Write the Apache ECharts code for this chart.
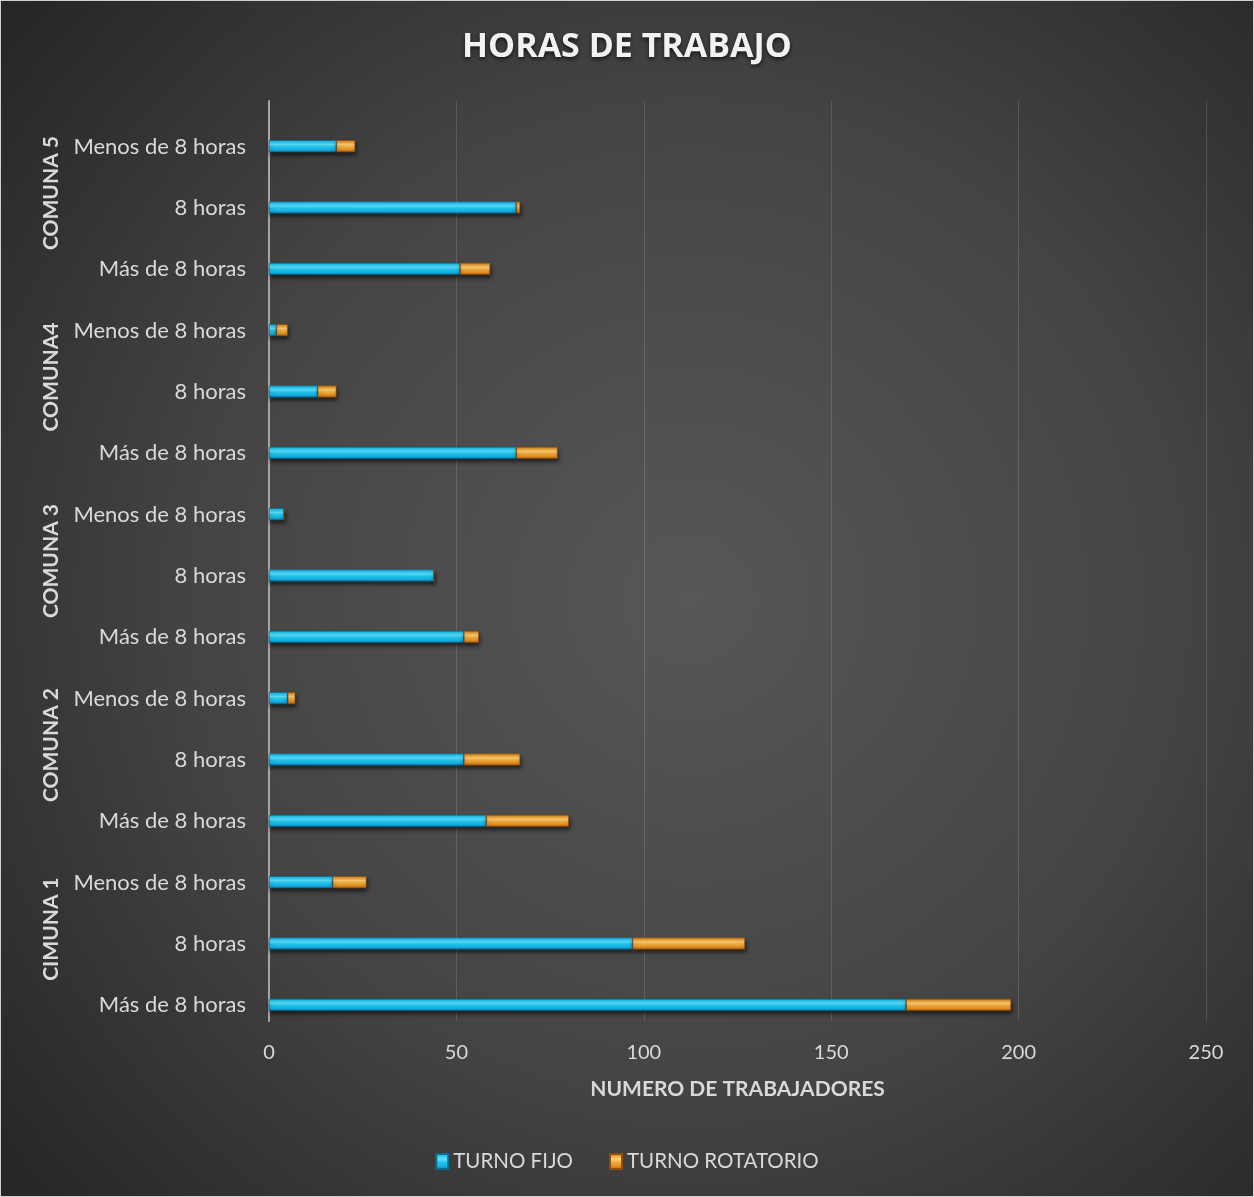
<!DOCTYPE html>
<html>
<head>
<meta charset="utf-8">
<script src="https://cdn.jsdelivr.net/npm/echarts@6/dist/echarts.min.js"></script>
<style>
  html, body { margin: 0; padding: 0; background: #d0d0d0; }
  #chart { width: 1252px; height: 1195px; margin: 1px; }
</style>
</head>
<body>
<div id="chart"></div>
<script>
// order is bottom -> top, same as the category axis
const horarios = [
  'Más de 8 horas', '8 horas', 'Menos de 8 horas',
  'Más de 8 horas', '8 horas', 'Menos de 8 horas',
  'Más de 8 horas', '8 horas', 'Menos de 8 horas',
  'Más de 8 horas', '8 horas', 'Menos de 8 horas',
  'Más de 8 horas', '8 horas', 'Menos de 8 horas',
];
const comunas = ['CIMUNA 1', 'COMUNA 2', 'COMUNA 3', 'COMUNA4', 'COMUNA 5'];
const turnoFijo = [170, 97, 17, 58, 52, 5, 52, 44, 4, 66, 13, 2, 51, 66, 18];
const turnoRotatorio = [28, 30, 9, 22, 15, 2, 4, 0, 0, 11, 5, 3, 8, 1, 5];
const xTicks = { min: 0, max: 250, interval: 50 };

const font = 'Lato, "Open Sans", sans-serif';
const txt = '#d9d9d9';

const cyan = {
  type: 'linear', x: 0, y: 0, x2: 0, y2: 1,
  colorStops: [
    { offset: 0, color: '#1aa8d6' },
    { offset: 0.2, color: '#2fd0f7' },
    { offset: 0.36, color: '#62e2ff' },
    { offset: 0.56, color: '#20c4f0' },
    { offset: 0.82, color: '#17abdd' },
    { offset: 1, color: '#0b6f96' },
  ],
};
const orange = {
  type: 'linear', x: 0, y: 0, x2: 0, y2: 1,
  colorStops: [
    { offset: 0, color: '#c77a1e' },
    { offset: 0.2, color: '#f2a838' },
    { offset: 0.36, color: '#ffd276' },
    { offset: 0.56, color: '#f3aa3c' },
    { offset: 0.82, color: '#dc8a20' },
    { offset: 1, color: '#9a5510' },
  ],
};

const barShadow = {
  shadowColor: 'rgba(0,0,0,0.6)',
  shadowBlur: 4,
  shadowOffsetX: 1,
  shadowOffsetY: 3,
};

const chart = echarts.init(document.getElementById('chart'));

chart.setOption({
  backgroundColor: {
    type: 'radial', x: 0.55, y: 0.5, r: 0.75,
    colorStops: [
      { offset: 0, color: '#575757' },
      { offset: 0.55, color: '#444444' },
      { offset: 1, color: '#262626' },
    ],
  },
  animation: false,
  title: {
    text: 'HORAS DE TRABAJO',
    left: 'center',
    top: 24,
    textStyle: {
      fontFamily: '"Open Sans", sans-serif',
      fontSize: 34,
      fontWeight: 'bold',
      color: '#f2f2f2',
      textShadowColor: 'rgba(0,0,0,0.7)',
      textShadowBlur: 4,
      textShadowOffsetY: 2,
    },
  },
  legend: {
    data: ['TURNO FIJO', 'TURNO ROTATORIO'],
    left: 'center',
    top: 1145,
    itemWidth: 12,
    itemHeight: 15,
    itemGap: 36,
    icon: 'rect',
    textStyle: { fontFamily: font, fontSize: 20.5, color: txt },
  },
  grid: { left: 268, right: 47, top: 100, bottom: 175 },
  xAxis: {
    type: 'value',
    min: xTicks.min,
    max: xTicks.max,
    interval: xTicks.interval,
    name: 'NUMERO DE TRABAJADORES',
    nameLocation: 'middle',
    nameGap: 58,
    nameTextStyle: { fontFamily: font, fontSize: 21, fontWeight: 'bold', color: txt },
    axisLine: { show: false },
    axisTick: { show: false },
    axisLabel: { fontFamily: font, fontSize: 20, color: txt, margin: 22 },
    splitLine: { lineStyle: { color: 'rgba(255,255,255,0.14)', width: 1 } },
  },
  yAxis: [
    {
      type: 'category',
      data: horarios,
      axisLine: { show: true, lineStyle: { color: '#a6a6a6', width: 2 } },
      axisTick: { show: false },
      axisLabel: {
        fontFamily: font,
        fontSize: 22,
        color: txt,
        margin: 23,
        verticalAlign: 'top',
        lineHeight: 30,
      },
    },
    {
      type: 'category',
      data: comunas,
      position: 'left',
      offset: 0,
      axisLine: { show: false },
      axisTick: { show: false },
      axisLabel: {
        rotate: 90,
        margin: 207,
        fontFamily: font,
        fontSize: 21,
        fontWeight: 'bold',
        color: txt,
      },
    },
  ],
  series: [
    {
      name: 'hueco',
      type: 'bar',
      stack: 'hueco',
      barWidth: 12,
      barGap: '142%',
      data: horarios.map(() => '-'),
    },
    {
      name: 'TURNO FIJO',
      type: 'bar',
      stack: 'total',
      barWidth: 12,
      barGap: '142%',
      data: turnoFijo,
      itemStyle: Object.assign({ color: cyan, borderColor: '#0b6a8e', borderWidth: 0.6 }, barShadow),
    },
    {
      name: 'TURNO ROTATORIO',
      type: 'bar',
      stack: 'total',
      barWidth: 12,
      barGap: '142%',
      data: turnoRotatorio,
      itemStyle: Object.assign({ color: orange, borderColor: '#8f4e0e', borderWidth: 0.6 }, barShadow),
    },
  ],
});
</script>
</body>
</html>
